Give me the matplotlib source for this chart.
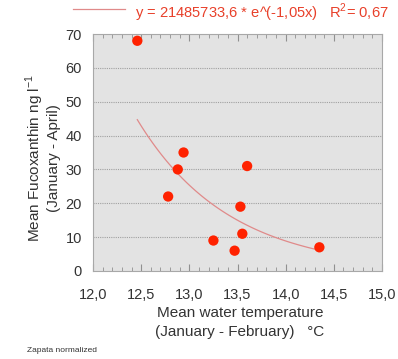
import numpy as np
import matplotlib
matplotlib.use("Agg")
import matplotlib.pyplot as plt
from matplotlib.ticker import MultipleLocator, FormatStrFormatter, FuncFormatter

temp = [12.46, 12.94, 12.88, 12.78, 13.60, 13.53, 13.55, 13.25, 13.47, 14.35]
fuco = [68, 35, 30, 22, 31, 19, 11, 9, 6, 7]
fit_a = 21485733.6
fit_b = -1.05

plt.rcParams['font.family'] = ['Liberation Sans', 'DejaVu Sans']

fig = plt.figure(figsize=(3.98, 3.59), dpi=100)
W, H = 398, 359
ax = fig.add_axes([93/W, 1-271/H, (382-93)/W, (271-34)/H])
ax.set_facecolor('#e3e3e3')
ax.set_xlim(12, 15)
ax.set_ylim(0, 70)

for y in range(10, 70, 10):
    ax.axhline(y, color='#a0a0a0', lw=0.8, ls=(0, (1, 1)), zorder=1)

xs = np.linspace(min(temp), max(temp), 100)
ax.plot(xs, fit_a*np.exp(fit_b*xs), color='#e08a8a', lw=0.9, zorder=2)
ax.scatter(temp, fuco, s=55, color='#ff2200', edgecolors='none', zorder=3)

ax.xaxis.set_major_locator(MultipleLocator(0.5))
ax.xaxis.set_minor_locator(MultipleLocator(0.1))
ax.yaxis.set_major_locator(MultipleLocator(10))
fmt = FuncFormatter(lambda v, p: f"{v:.1f}".replace('.', ','))
ax.xaxis.set_major_formatter(fmt)
ax.yaxis.set_major_formatter(FormatStrFormatter('%d'))
ax.tick_params(axis='x', which='major', direction='in', length=5, top=True, color='#909090', labelsize=10.5, pad=12, labelcolor='#333333')
ax.tick_params(axis='x', which='minor', direction='in', length=3, top=True, color='#909090')
ax.tick_params(axis='y', which='major', length=0, labelsize=10.5, pad=8, labelcolor='#333333')
for s in ax.spines.values():
    s.set_color('#a8a8a8')
    s.set_linewidth(0.8)

fig.text(240/W, 1-313/H, "Mean water temperature", ha='center', va='center', fontsize=11, color='#333333')
fig.text(240/W, 1-332/H, "(January - February)   °C", ha='center', va='center', fontsize=11, color='#333333')
fig.text(35/W, 1-158/H, r"Mean Fucoxanthin ng l$^{\mathregular{-1}}$", ha='center', va='center', rotation=90, fontsize=11, color='#333333')
fig.text(54/W, 1-158/H, "(January - April)", ha='center', va='center', rotation=90, fontsize=11, color='#333333')
fig.text(27/W, 1-350/H, "Zapata normalized", ha='left', va='center', fontsize=6, color='#333333')

fig.add_artist(plt.Line2D([73/W, 125/W], [1-9/H, 1-9/H], color='#e08a8a', lw=0.9))
fig.text(135/W, 1-13/H, r"y = 21485733,6 * e^(-1,05x)   R$^{\mathregular{2}}$= 0,67", ha='left', va='center', fontsize=10.6, color='#e8402a')

fig.savefig('out.png', dpi=100)
